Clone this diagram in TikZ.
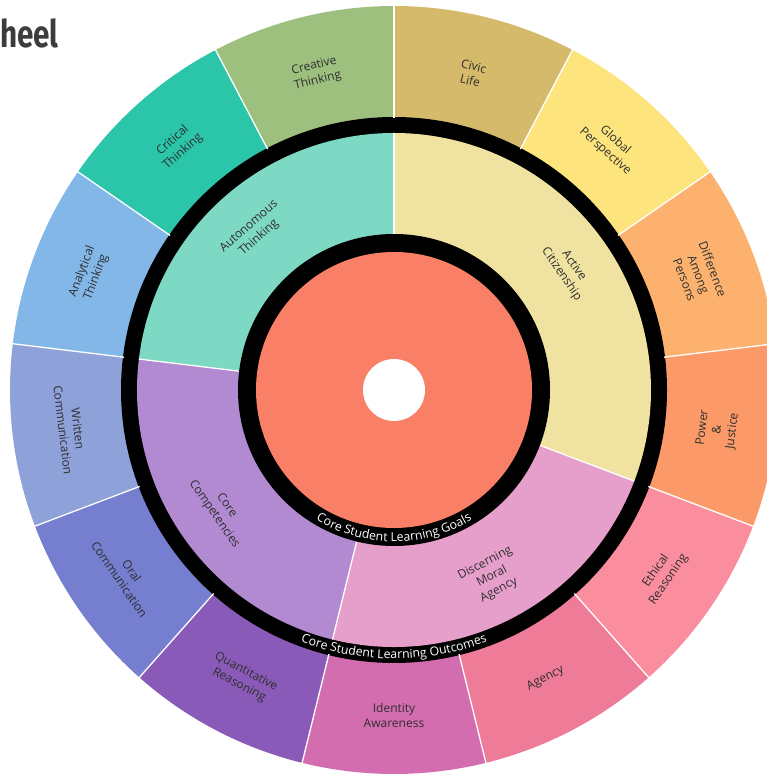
\documentclass[tikz,border=0pt]{standalone}
\usepackage{fontspec}
\setmainfont{Open Sans}
\newfontfamily\titlefont{Fira Sans}
\usetikzlibrary{decorations.text}
\definecolor{oCreative}{HTML}{9DC07E}
\definecolor{oCritical}{HTML}{2BC5AA}
\definecolor{oAnalytical}{HTML}{83B7E8}
\definecolor{oWritten}{HTML}{8FA1D9}
\definecolor{oOral}{HTML}{757ECF}
\definecolor{oQuant}{HTML}{895AB7}
\definecolor{oIdentity}{HTML}{D46CB0}
\definecolor{oAgency}{HTML}{EE7B98}
\definecolor{oEthical}{HTML}{FA8E9E}
\definecolor{oPower}{HTML}{FB9A68}
\definecolor{oDifference}{HTML}{FCB26E}
\definecolor{oGlobal}{HTML}{FDE47C}
\definecolor{oCivic}{HTML}{D5BA6C}
\definecolor{mAuto}{HTML}{7ED9C4}
\definecolor{mCore}{HTML}{B18AD2}
\definecolor{mDisc}{HTML}{E59FCA}
\definecolor{mActive}{HTML}{F0E2A0}
\definecolor{coreRed}{HTML}{F97F66}
\definecolor{labelGray}{HTML}{2F2F2F}
\definecolor{titleGray}{HTML}{3C3C3C}
\tikzset{
  seglabel/.style={align=center, inner sep=0pt, text=labelGray, font=\fontsize{12}{15}\selectfont},
  sepline/.style={white, line width=1.3pt},
}
\begin{document}
\begin{tikzpicture}[x=1pt,y=1pt]
\useasboundingbox (0,0) rectangle (767,774);
\clip (0,0) rectangle (767,774);
\fill[white] (0,0) rectangle (767,774);
\coordinate (C) at (394,384);
% outer ring
\foreach \i/\col in {0/oCreative, 1/oCritical, 2/oAnalytical, 3/oWritten, 4/oOral, 5/oQuant, 6/oIdentity, 7/oAgency, 8/oEthical, 9/oPower, 10/oDifference, 11/oGlobal, 12/oCivic} {
  \pgfmathsetmacro\a{90+\i*360/13}
  \pgfmathsetmacro\b{90+(\i+1)*360/13}
  \fill[\col] (C) -- ++(\a:384) arc[start angle=\a, end angle=\b, radius=384] -- cycle;
}
\fill[black] (C) circle[radius=273];
% separators outer
\foreach \i in {0,...,12} {
  \pgfmathsetmacro\a{90+\i*360/13}
  \draw[sepline] (C) ++(\a:272) -- ++(\a:114);
}
% middle ring
\foreach \a/\b/\col in {90/173.0769/mAuto, 173.0769/256.1538/mCore, 256.1538/339.2308/mDisc, 339.2308/450/mActive} {
  \fill[\col] (C) -- ++(\a:257) arc[start angle=\a, end angle=\b, radius=257] -- cycle;
}
\foreach \a in {90, 173.0769, 256.1538, 339.2308} {
  \draw[sepline] (C) ++(\a:156) -- ++(\a:101);
}
\fill[black] (C) circle[radius=156];
\fill[coreRed] (C) circle[radius=138];
\fill[white] (C) circle[radius=31];
% outer labels
\foreach \i/\txt in {
  0/{Creative\\Thinking},
  1/{Critical\\Thinking},
  2/{Analytical\\Thinking},
  3/{Written\\Communication},
  4/{Oral\\Communication},
  5/{Quantitative\\Reasoning},
  6/{Identity\\Awareness},
  7/{Agency},
  8/{Ethical\\Reasoning},
  9/{Power\\\&\\Justice},
  10/{Difference\\Among\\Persons},
  11/{Global\\Perspective},
  12/{Civic\\Life}} {
  \pgfmathsetmacro\m{90+(\i+0.5)*360/13}
  \pgfmathsetmacro\mm{mod(\m,360)}
  \pgfmathsetmacro\r{ifthenelse(\mm<180, \m-90, \m+90)}
  \node[seglabel, rotate=\r] (out\i) at ([shift={(\m:326)}]C) {\txt};
}
% middle labels
\foreach \n/\m/\txt in {
  auto/131.5385/{Autonomous\\Thinking},
  core/214.6154/{Core\\Competencies},
  disc/297.6923/{Discerning\\Moral\\Agency},
  active/394.6154/{Active\\Citizenship}} {
  \pgfmathsetmacro\mm{mod(\m,360)}
  \pgfmathsetmacro\r{ifthenelse(\mm<180, \m-90, \m+90)}
  \node[seglabel, rotate=\r] (mid\n) at ([shift={(\m:211)}]C) {\txt};
}
% curved ring labels
\path[decorate, decoration={text along path, text align=center, text color=white,
  text={|\fontsize{12.3}{14}\selectfont|Core Student Learning Goals}}]
  (C) ++(180:151.5) arc[start angle=180, end angle=360, radius=151.5];
\path[decorate, decoration={text along path, text align=center, text color=white,
  text={|\fontsize{12.3}{14}\selectfont|Core Student Learning Outcomes}}]
  (C) ++(180:268.5) arc[start angle=180, end angle=360, radius=268.5];
% title
\node[anchor=north west, inner sep=0pt, text=titleGray, xscale=0.78] (title) at (0,756)
  {\titlefont\bfseries\fontsize{38}{40}\selectfont heel};
\end{tikzpicture}
\end{document}
